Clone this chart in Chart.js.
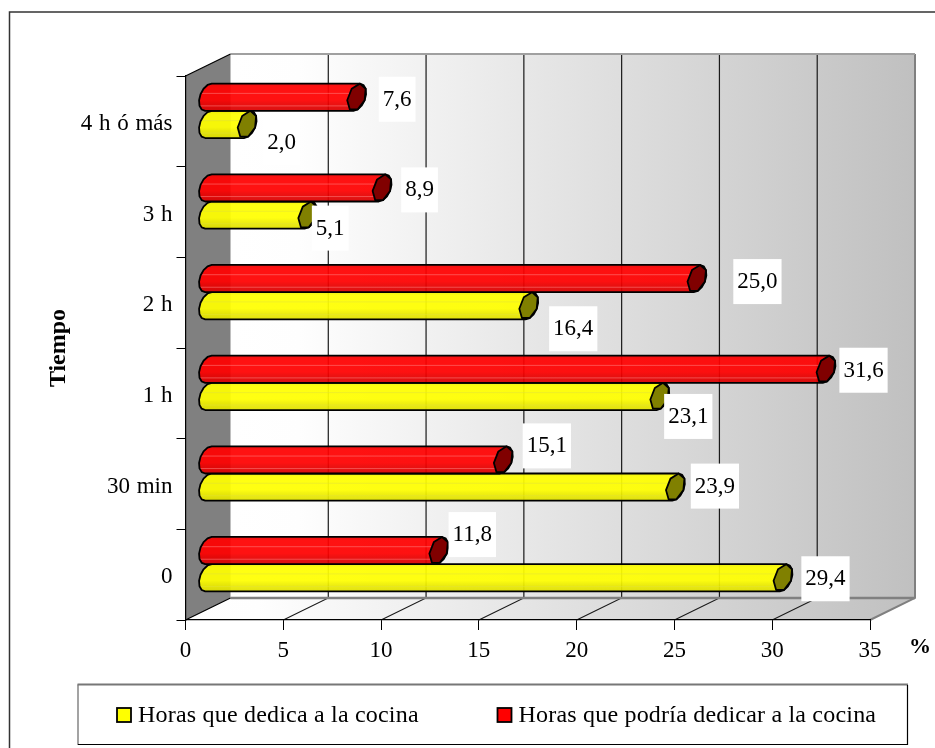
<!DOCTYPE html>
<html lang="es">
<head>
<meta charset="utf-8">
<title>Tiempo dedicado a la cocina</title>
<style>
  html, body { margin: 0; padding: 0; background: #fff; }
  canvas { display: block; }
</style>
<script src="https://cdn.jsdelivr.net/npm/chart.js@4/dist/chart.umd.min.js"></script>
</head>
<body>
<canvas id="grafico" width="935" height="748"></canvas>
<script>
// Categorías de arriba abajo y porcentajes de cada serie
const categorias = ['4 h ó más', '3 h', '2 h', '1 h', '30 min', '0'];
const horasDedica = [2.0, 5.1, 16.4, 23.1, 23.9, 29.4];
const horasPodria = [7.6, 8.9, 25.0, 31.6, 15.1, 11.8];
const etiquetaDedica = 'Horas que dedica a la cocina';
const etiquetaPodria = 'Horas que podría dedicar a la cocina';

const FUENTE = '"Liberation Serif", "Times New Roman", serif';

// Profundidad de la caja 3D y del eje de los cilindros
const CAJA = { dx: 45, dy: -22 };
const EJE = { dx: 22.5, dy: -10.5 };

// Desplazamiento de cada rótulo respecto al extremo de su barra
const despRotulos = {
  amarillo: [[57, 8], [45, 3], [67, 13], [51, 10], [62, -11], [65, -9]],
  rojo: [[63, -8], [60, -8], [83, -7], [60, -9], [66, -24], [56, -26]]
};

function grisPared(ctx, x0, x1) {
  const g = ctx.createLinearGradient(x0, 0, x1, 0);
  g.addColorStop(0, '#ffffff');
  g.addColorStop(0.1, '#fefefe');
  g.addColorStop(1, '#c0c0c0');
  return g;
}

const cajaPlugin = {
  id: 'caja3d',
  beforeDraw(chart) {
    const { ctx, chartArea: a, scales } = chart;
    const { left: l, right: r, top: t, bottom: b } = a;
    const { dx, dy } = CAJA;
    ctx.wordSpacing = '1px';
    ctx.save();

    // Pared del fondo
    ctx.fillStyle = grisPared(ctx, l + dx, r + dx);
    ctx.fillRect(l + dx, t + dy, r - l, b - t);

    // Suelo
    ctx.fillStyle = grisPared(ctx, l, r + dx);
    ctx.beginPath();
    ctx.moveTo(l, b); ctx.lineTo(r, b);
    ctx.lineTo(r + dx, b + dy); ctx.lineTo(l + dx, b + dy);
    ctx.closePath(); ctx.fill();

    // Pared lateral
    ctx.fillStyle = '#808080';
    ctx.beginPath();
    ctx.moveTo(l, t); ctx.lineTo(l + dx, t + dy);
    ctx.lineTo(l + dx, b + dy); ctx.lineTo(l, b);
    ctx.closePath(); ctx.fill();

    // Rejilla sobre la pared y el suelo
    ctx.strokeStyle = '#1a1a1a';
    ctx.lineWidth = 1.2;
    scales.x.ticks.forEach(tk => {
      const x = scales.x.getPixelForValue(tk.value);
      if (tk.value > 0 && tk.value < 35) {
        ctx.beginPath();
        ctx.moveTo(x + dx, t + dy); ctx.lineTo(x + dx, b + dy);
        ctx.lineTo(x, b);
        ctx.stroke();
      }
    });

    // Aristas de la caja
    ctx.strokeStyle = '#808080';
    ctx.lineWidth = 2.5;
    ctx.beginPath();
    ctx.moveTo(l + dx, b + dy); ctx.lineTo(r + dx, b + dy);
    ctx.stroke();
    ctx.lineWidth = 2;
    ctx.beginPath();
    ctx.moveTo(r, b); ctx.lineTo(r + dx, b + dy); ctx.lineTo(r + dx, t + dy);
    ctx.stroke();
    ctx.strokeStyle = '#a0a0a0';
    ctx.beginPath();
    ctx.moveTo(l + dx, t + dy); ctx.lineTo(r + dx, t + dy);
    ctx.stroke();
    ctx.strokeStyle = '#000';
    ctx.lineWidth = 1.2;
    ctx.beginPath();
    ctx.moveTo(l, t); ctx.lineTo(l + dx, t + dy);
    ctx.moveTo(l, b); ctx.lineTo(l + dx, b + dy);
    ctx.stroke();
    ctx.restore();
  }
};

// Perfil del cilindro: elipse inclinada, trazada con pocos segmentos
const INCLINA = -0.35;
function puntoTapa(cx, cy, rv, t) {
  return [cx + 9.5 * Math.cos(t), cy + rv * Math.sin(t + INCLINA)];
}

function trazarTapa(ctx, cx, cy, rv, ini, fin, primero) {
  const pasos = 7;
  for (let i = 0; i <= pasos; i++) {
    const p = puntoTapa(cx, cy, rv, ini + (fin - ini) * i / pasos);
    if (i === 0 && primero) ctx.moveTo(p[0], p[1]); else ctx.lineTo(p[0], p[1]);
  }
}

function dibujarCilindro(ctx, el, tonos) {
  const x0 = el.base + EJE.dx;
  const x1 = el.x + EJE.dx;
  const cy = el.y + EJE.dy;
  const rv = el.height / 2;
  const arriba = cy - rv, abajo = cy + rv;
  const tAbajo = Math.PI / 2 - INCLINA;
  const tArriba = -Math.PI / 2 - INCLINA;

  ctx.save();
  ctx.beginPath();
  trazarTapa(ctx, x0, cy, rv, tAbajo, tArriba + 2 * Math.PI, true);
  trazarTapa(ctx, x1, cy, rv, tArriba, tAbajo, false);
  ctx.closePath();

  const g = ctx.createLinearGradient(0, arriba, 0, abajo);
  g.addColorStop(0, tonos.borde);
  g.addColorStop(0.12, tonos.claro);
  g.addColorStop(0.6, tonos.claro);
  g.addColorStop(0.72, tonos.medio);
  g.addColorStop(1, tonos.oscuro);
  ctx.fillStyle = g;
  ctx.fill();

  // Reflejos horizontales finos
  ctx.save();
  ctx.clip();
  ctx.fillStyle = tonos.brillo;
  ctx.fillRect(x0 - 12, arriba + el.height * 0.34, x1 - x0 + 24, 1);
  ctx.fillRect(x0 - 12, arriba + el.height * 0.8, x1 - x0 + 24, 1);
  ctx.restore();

  ctx.strokeStyle = '#000';
  ctx.lineWidth = 1.8;
  ctx.lineJoin = 'round';
  ctx.stroke();

  // Tapa del extremo
  ctx.beginPath();
  trazarTapa(ctx, x1, cy, rv, tArriba, tArriba + 2 * Math.PI, true);
  ctx.closePath();
  ctx.fillStyle = tonos.tapa;
  ctx.fill();
  ctx.stroke();
  ctx.restore();
}

const TONOS = {
  amarillo: {
    borde: 'rgba(240,240,0,0.93)', claro: 'rgba(255,255,0,0.93)', medio: 'rgba(242,242,0,0.93)',
    oscuro: 'rgba(222,222,0,0.93)', brillo: 'rgba(225,225,60,0.5)', tapa: '#808000'
  },
  rojo: {
    borde: 'rgba(235,0,0,0.93)', claro: 'rgba(255,0,0,0.93)', medio: 'rgba(238,0,0,0.93)',
    oscuro: 'rgba(214,0,0,0.93)', brillo: 'rgba(255,130,130,0.55)', tapa: '#800000'
  }
};

const cilindrosPlugin = {
  id: 'cilindros',
  beforeDatasetDraw(chart, args) {
    const ds = chart.data.datasets[args.index];
    args.meta.data.forEach(el => dibujarCilindro(chart.ctx, el, TONOS[ds.tono]));
    return false;
  }
};

const rotulosPlugin = {
  id: 'rotulos',
  afterDraw(chart) {
    const { ctx } = chart;
    ctx.save();
    ctx.font = `23px ${FUENTE}`;
    ctx.textAlign = 'center';
    ctx.textBaseline = 'middle';
    chart.data.datasets.forEach((ds, i) => {
      chart.getDatasetMeta(i).data.forEach((el, j) => {
        const d = despRotulos[ds.tono][j];
        const x = el.x + d[0], y = el.y + d[1];
        const txt = ds.data[j].toFixed(1).replace('.', ',');
        const w = ctx.measureText(txt).width + 8;
        ctx.fillStyle = '#fff';
        ctx.fillRect(x - w / 2, y - 23, w, 45);
        ctx.fillStyle = '#000';
        ctx.fillText(txt, x, y);
      });
    });

    // Unidad del eje horizontal
    ctx.font = `bold 22px ${FUENTE}`;
    ctx.fillText('%', 920, 647);
    ctx.restore();
  }
};

const marcoPlugin = {
  id: 'marcoLeyenda',
  afterDraw(chart) {
    const { ctx } = chart;
    ctx.save();

    // Marco exterior
    ctx.strokeStyle = '#333';
    ctx.lineWidth = 1.5;
    ctx.beginPath();
    ctx.moveTo(9.5, 748); ctx.lineTo(9.5, 12); ctx.lineTo(935, 12);
    ctx.stroke();

    // Caja de la leyenda
    ctx.strokeStyle = '#666';
    ctx.lineWidth = 1.2;
    ctx.beginPath();
    ctx.moveTo(78, 745); ctx.lineTo(78, 684.5);
    ctx.stroke();
    ctx.strokeStyle = '#777';
    ctx.lineWidth = 2;
    ctx.beginPath();
    ctx.moveTo(77.5, 684.5); ctx.lineTo(908, 684.5);
    ctx.stroke();
    ctx.strokeStyle = '#000';
    ctx.lineWidth = 1.2;
    ctx.beginPath();
    ctx.moveTo(907.5, 685); ctx.lineTo(907.5, 744.5); ctx.lineTo(78, 744.5);
    ctx.stroke();

    // Entradas de la leyenda, en orden amarillo y rojo
    const entradas = [
      { ds: chart.data.datasets[1], x: 117 },
      { ds: chart.data.datasets[0], x: 497.5 }
    ];
    ctx.font = `24px ${FUENTE}`;
    ctx.letterSpacing = '0.2px';
    ctx.wordSpacing = '0px';
    ctx.textBaseline = 'alphabetic';
    ctx.textAlign = 'left';
    entradas.forEach(({ ds, x }) => {
      ctx.fillStyle = ds.backgroundColor;
      ctx.strokeStyle = '#000';
      ctx.lineWidth = 1.8;
      ctx.fillRect(x, 708, 14, 14);
      ctx.strokeRect(x, 708, 14, 14);
      ctx.fillStyle = '#000';
      ctx.fillText(ds.label, x + 21, 722);
    });
    ctx.letterSpacing = '0px';
    ctx.restore();
  }
};

new Chart(document.getElementById('grafico'), {
  type: 'bar',
  data: {
    labels: categorias,
    datasets: [
      { label: etiquetaPodria, data: horasPodria, tono: 'rojo', backgroundColor: '#ff0000' },
      { label: etiquetaDedica, data: horasDedica, tono: 'amarillo', backgroundColor: '#ffff00' }
    ]
  },
  plugins: [cajaPlugin, cilindrosPlugin, rotulosPlugin, marcoPlugin],
  options: {
    indexAxis: 'y',
    responsive: false,
    animation: false,
    maintainAspectRatio: false,
    categoryPercentage: 0.6,
    barPercentage: 1,
    layout: { padding: { left: 42, right: 65, top: 76, bottom: 78 } },
    plugins: { legend: { display: false }, tooltip: { enabled: false } },
    scales: {
      x: {
        min: 0,
        max: 35,
        ticks: { stepSize: 5, maxRotation: 0, color: '#000', padding: 7, font: { family: FUENTE, size: 23 } },
        grid: { drawOnChartArea: false, color: '#000', tickLength: 10 },
        border: { color: '#000', width: 1.2 },
        afterFit(s) { s.height = 50; }
      },
      y: {
        ticks: { color: '#000', padding: 4, labelOffset: 2.5, font: { family: FUENTE, size: 23 } },
        grid: { drawOnChartArea: false, color: '#000', tickLength: 9 },
        border: { color: '#000', width: 1.2 },
        title: {
          display: true, text: 'Tiempo', color: '#000', padding: 2,
          font: { family: FUENTE, size: 24, weight: 'bold' }
        },
        afterFit(s) { s.width = 143.5; }
      }
    }
  }
});
</script>
</body>
</html>
